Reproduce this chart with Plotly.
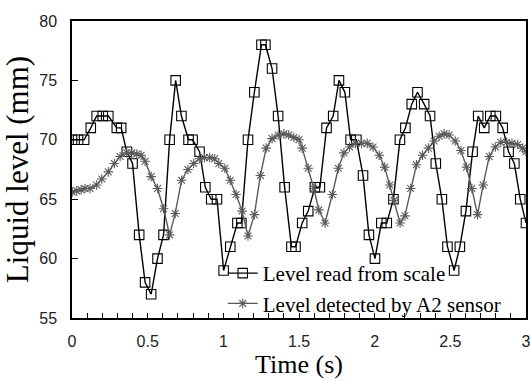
import plotly.graph_objects as go

scale_t = [0.00, 0.04, 0.08, 0.124, 0.163, 0.203, 0.24, 0.296, 0.325, 0.362, 0.40, 0.444, 0.483, 0.523,
           0.565, 0.605, 0.645, 0.685, 0.723, 0.77, 0.797, 0.843, 0.881, 0.92, 0.958, 1.002, 1.046,
           1.093, 1.119, 1.163, 1.205, 1.252, 1.278, 1.322, 1.362, 1.405, 1.45, 1.477, 1.521, 1.561,
           1.605, 1.638, 1.682, 1.726, 1.764, 1.803, 1.841, 1.879, 1.923, 1.962, 2.002, 2.044, 2.08,
           2.124, 2.167, 2.203, 2.245, 2.283, 2.327, 2.366, 2.404, 2.444, 2.481, 2.525, 2.563, 2.603,
           2.647, 2.684, 2.724, 2.764, 2.801, 2.846, 2.885, 2.923, 2.962, 3.0]
scale_v = [70, 70, 70, 71, 72, 72, 72, 71, 71, 69, 68, 62, 58, 57,
           60, 62, 70, 75, 72, 70, 70, 69, 66, 65, 65, 59, 61,
           63, 63, 70, 74, 78, 78, 76, 72, 66, 61, 61, 63, 64,
           66, 66, 71, 72, 75, 74, 70, 70, 67, 62, 60, 63, 63,
           65, 70, 71, 73, 74, 73, 72, 68, 65, 61, 59, 61, 64,
           69, 72, 71, 72, 72, 71, 69, 68, 65, 63]

# Level detected by A2 sensor
sensor_t = [0.002, 0.031, 0.06, 0.086, 0.119, 0.163, 0.197, 0.24, 0.28, 0.318, 0.362, 0.395, 0.428,
            0.457, 0.483, 0.523, 0.565, 0.605, 0.645, 0.682, 0.724, 0.766, 0.804, 0.841, 0.876, 0.91,
            0.943, 0.97, 1.01, 1.046, 1.084, 1.124, 1.163, 1.205, 1.245, 1.283, 1.322, 1.362, 1.40,
            1.432, 1.466, 1.50, 1.521, 1.561, 1.598, 1.631, 1.672, 1.72, 1.76, 1.797, 1.834, 1.874,
            1.914, 1.951, 1.989, 2.03, 2.066, 2.10, 2.128, 2.168, 2.20, 2.238, 2.276, 2.316, 2.355,
            2.393, 2.426, 2.459, 2.492, 2.532, 2.57, 2.607, 2.642, 2.68, 2.717, 2.757, 2.797, 2.834,
            2.872, 2.907, 2.945, 2.978, 3.0]
sensor_v = [65.6, 65.7, 65.8, 65.9, 65.9, 66.2, 66.7, 67.3, 68.0, 68.6, 68.9, 68.9, 68.8,
            68.7, 68.2, 66.9, 65.9, 64.2, 62.0, 63.8, 66.6, 67.5, 68.0, 68.4, 68.5, 68.5,
            68.4, 68.0, 67.6, 66.6, 65.4, 64.0, 61.9, 63.7, 67.0, 69.3, 70.1, 70.4, 70.5,
            70.4, 70.2, 70.0, 69.3, 67.6, 65.9, 64.1, 63.0, 65.4, 67.6, 68.9, 69.4, 69.7,
            69.7, 69.7, 69.4, 68.7, 67.7, 66.2, 64.9, 63.0, 63.6, 65.9, 67.9, 68.7, 69.3,
            69.9, 70.3, 70.5, 70.4, 69.9, 69.1, 67.7, 65.9, 63.7, 66.2, 68.6, 69.4, 69.8,
            69.8, 69.7, 69.6, 69.3, 69.0]

x_ticks = [0, 0.5, 1, 1.5, 2, 2.5, 3]
x_tick_text = ["0", "0.5", "1", "1.5", "2", "2.5", "3"]
y_ticks = [55, 60, 65, 70, 75, 80]

serif = "Liberation Serif, Times New Roman, serif"
narrow = "Liberation Sans Narrow, Arial Narrow, Liberation Sans, sans-serif"

fig = go.Figure()
fig.add_trace(go.Scatter(
    x=scale_t, y=scale_v, mode="lines+markers", name="Level read from scale",
    line=dict(color="black", width=1.4),
    marker=dict(symbol="square-open", size=9.5, color="black", line=dict(width=1.1)),
))
fig.add_trace(go.Scatter(
    x=sensor_t, y=sensor_v, mode="lines+markers", name="Level detected by A2 sensor",
    line=dict(color="#5a5a5a", width=1.4),
    marker=dict(symbol="asterisk-open", size=8, color="#5a5a5a", line=dict(width=1.1, color="#5a5a5a")),
))

fig.update_layout(
    width=530, height=381,
    margin=dict(l=72, r=4, t=21, b=63, autoexpand=False),
    paper_bgcolor="white", plot_bgcolor="white",
    showlegend=True,
    legend=dict(
        x=0.332, y=-0.02, xanchor="left", yanchor="bottom",
        bgcolor="rgba(0,0,0,0)", borderwidth=0,
        font=dict(family=serif, size=21, color="black"),
        tracegroupgap=0, itemwidth=30,
    ),
)
fig.update_xaxes(
    range=[0, 3], tickvals=x_ticks, ticktext=x_tick_text, automargin=False,
    ticks="inside", ticklen=5, tickwidth=1, tickcolor="black",
    minor=dict(dtick=0.1, ticks="inside", ticklen=5, tickwidth=1, tickcolor="black"),
    showline=True, linecolor="black", linewidth=1.5, mirror=True,
    showgrid=False, zeroline=False,
    tickfont=dict(family=narrow, size=16, color="#222"),
    ticklabelstandoff=8, ticklabeloverflow="allow",
    title=dict(text="Time (s)", font=dict(family=serif, size=26, color="black"), standoff=2),
)
fig.update_yaxes(
    range=[55, 80], tickvals=y_ticks, automargin=False,
    ticks="inside", ticklen=6, tickwidth=1, tickcolor="black",
    showline=True, linecolor="black", linewidth=1.5, mirror=True,
    showgrid=False, zeroline=False,
    tickfont=dict(family=narrow, size=16, color="#222"),
    ticklabelstandoff=10, ticklabeloverflow="allow",
    title=dict(text="Liquid level (mm)", font=dict(family=serif, size=31, color="black"), standoff=6),
)

fig.write_html("out.html", config={"displayModeBar": False},
               post_script="document.body.style.margin='0';document.body.style.overflow='hidden';")
